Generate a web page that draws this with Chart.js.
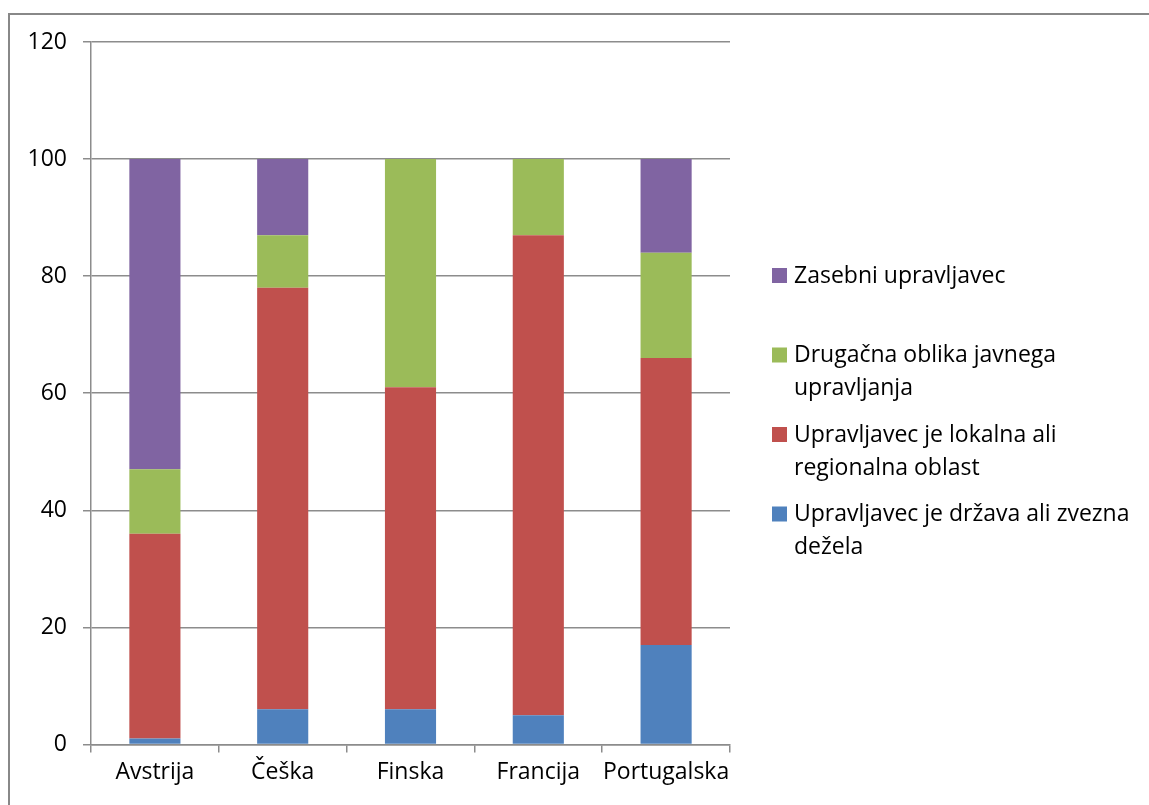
<!DOCTYPE html>
<html>
<head>
<meta charset="utf-8">
<script src="https://cdn.jsdelivr.net/npm/chart.js@4"></script>
<style>
  html, body { margin: 0; padding: 0; background: #fff; }
  canvas { display: block; }
</style>
</head>
<body>
<canvas id="chart" width="1149" height="805"></canvas>
<script>
const countries = ['Avstrija', 'Češka', 'Finska', 'Francija', 'Portugalska'];
const drzava = [1, 6, 6, 5, 17];
const lokalna = [35, 72, 55, 82, 49];
const drugacna = [11, 9, 39, 13, 18];
const zasebni = [53, 13, 0, 0, 16];

const colors = {
    blue: '#4F81BD',
    red: '#C0504D',
    green: '#9BBB59',
    purple: '#8064A2',
    grid: '#8c8c8c'
};

const fontFamily = "'Open Sans', 'Noto Sans', sans-serif";

// Legend on the right, with wrapped labels like the original
const legendItems = [
    { color: colors.purple, lines: ['Zasebni upravljavec'] },
    { color: colors.green, lines: ['Drugačna oblika javnega', 'upravljanja'] },
    { color: colors.red, lines: ['Upravljavec je lokalna ali', 'regionalna oblast'] },
    { color: colors.blue, lines: ['Upravljavec je država ali zvezna', 'dežela'] }
];

const sideLegend = {
    id: 'sideLegend',
    beforeDraw(chart) {
        const ctx = chart.ctx;
        ctx.save();
        ctx.fillStyle = '#fff';
        ctx.fillRect(0, 0, chart.width, chart.height);
        ctx.strokeStyle = '#888';
        ctx.lineWidth = 2;
        ctx.strokeRect(9, 14, chart.width + 20, chart.height + 20);
        ctx.restore();
    },
    afterDraw(chart) {
        const ctx = chart.ctx;
        ctx.save();
        ctx.font = '23px ' + fontFamily;
        ctx.textBaseline = 'middle';
        ctx.fillStyle = '#000';
        let y = 276;
        legendItems.forEach(item => {
            ctx.fillStyle = item.color;
            ctx.fillRect(772, y - 8, 15, 15);
            ctx.fillStyle = '#000';
            item.lines.forEach((line, i) => ctx.fillText(line, 794, y + i * 33));
            y += 79.5;
        });
        ctx.restore();
    }
};

new Chart(document.getElementById('chart'), {
    type: 'bar',
    data: {
        labels: countries,
        datasets: [
            { label: 'Upravljavec je država ali zvezna dežela', data: drzava, backgroundColor: colors.blue },
            { label: 'Upravljavec je lokalna ali regionalna oblast', data: lokalna, backgroundColor: colors.red },
            { label: 'Drugačna oblika javnega upravljanja', data: drugacna, backgroundColor: colors.green },
            { label: 'Zasebni upravljavec', data: zasebni, backgroundColor: colors.purple }
        ]
    },
    options: {
        responsive: false,
        animation: false,
        layout: { padding: { top: 42, right: 419, bottom: 13, left: 0 } },
        datasets: {
            bar: { barPercentage: 0.4, categoryPercentage: 1.0, borderWidth: 0 }
        },
        plugins: {
            legend: { display: false },
            tooltip: { enabled: false }
        },
        scales: {
            x: {
                stacked: true,
                grid: { drawOnChartArea: false, drawTicks: true, tickLength: 8, color: colors.grid, lineWidth: 1.5 },
                border: { color: colors.grid, width: 1.5 },
                ticks: { color: '#000', font: { family: fontFamily, size: 23 }, padding: 6, maxRotation: 0, autoSkip: false }
            },
            y: {
                stacked: true,
                min: 0,
                max: 120,
                afterFit(scale) { scale.width = 91; },
                grid: { color: colors.grid, lineWidth: 1.5, tickLength: 8 },
                border: { color: colors.grid, width: 1.5 },
                ticks: { stepSize: 20, color: '#000', font: { family: fontFamily, size: 23 }, padding: 16 }
            }
        }
    },
    plugins: [sideLegend]
});
</script>
</body>
</html>
